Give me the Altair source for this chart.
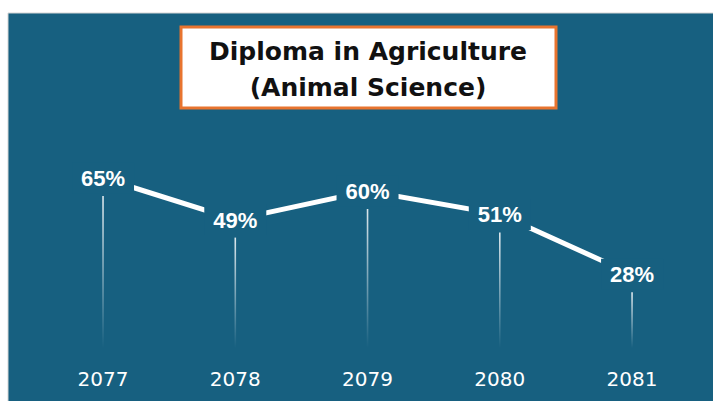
import altair as alt
import pandas as pd

# ---- data ----
years = [2077, 2078, 2079, 2080, 2081]
year_labels = ["2077", "2078", "2079", "2080", "2081"]
values = [65, 49, 60, 51, 28]
value_labels = ["65%", "49%", "60%", "51%", "28%"]
title_lines = ["Diploma in Agriculture", "(Animal Science)"]

TEAL = "#176080"
ORANGE = "#E8742F"

df = pd.DataFrame({"year": years, "year_label": year_labels,
                   "value": values, "label": value_labels})
one = pd.DataFrame({"a": [0]})

xs = alt.Scale(domain=[2076.221, 2081.612], nice=False, zero=False, padding=0)
ys = alt.Scale(domain=[-20.77, 133.46], nice=False, zero=False, padding=0)
X = alt.X("year:Q", scale=xs, axis=None)
Y = alt.Y("value:Q", scale=ys, axis=None)

base = alt.Chart(df)

bg = alt.Chart(one).mark_rect(fill=TEAL, stroke="#d4d4d4", strokeWidth=1).encode(
    x=alt.value(8), x2=alt.value(716), y=alt.value(13), y2=alt.value(404))

grad = alt.Gradient(
    gradient="linear",
    stops=[alt.GradientStop(color="rgba(255,255,255,0.85)", offset=0),
           alt.GradientStop(color="rgba(255,255,255,0.35)", offset=0.6),
           alt.GradientStop(color="rgba(255,255,255,0)", offset=1)],
    x1=0, x2=0, y1=0, y2=1)

drops = base.mark_bar(width=1.6, fill=grad, yOffset=18, y2Offset=1).encode(
    x=X, y=Y, y2=alt.datum(0))

line = base.mark_line(color="white", strokeWidth=5, strokeCap="butt").encode(x=X, y=Y)

boxes = base.mark_point(shape="M-1,-0.5H1V0.5H-1Z", filled=True, fill=TEAL,
                        size=3844, opacity=1, strokeWidth=0).encode(x=X, y=Y)

labels = base.mark_text(color="white", font="Liberation Sans", fontWeight="bold",
                        fontSize=22, baseline="alphabetic", dy=8).encode(
    x=X, y=Y, text="label:N")

year_text = base.mark_text(color="white", font="DejaVu Sans", fontSize=20,
                           baseline="alphabetic").encode(
    x=X, y=alt.value(386), text="year_label:N")

title_box = alt.Chart(one).mark_rect(fill="white", stroke=ORANGE, strokeWidth=3).encode(
    x=alt.value(181), x2=alt.value(556), y=alt.value(27), y2=alt.value(108))

t1 = alt.Chart(one).mark_text(font="DejaVu Sans", fontWeight="bold", fontSize=25,
                              color="#111111", baseline="alphabetic").encode(
    x=alt.value(368), y=alt.value(60), text=alt.value(title_lines[0]))
t2 = alt.Chart(one).mark_text(font="DejaVu Sans", fontWeight="bold", fontSize=25,
                              color="#111111", baseline="alphabetic").encode(
    x=alt.value(368), y=alt.value(96), text=alt.value(title_lines[1]))

chart = alt.layer(bg, drops, line, boxes, labels, year_text, title_box, t1, t2).properties(
    width=713, height=401, autosize=alt.AutoSizeParams(type="none"), padding=0,
    background="white"
).configure_view(stroke=None)

chart.save("out.html", embed_options={"renderer": "svg", "actions": False})
